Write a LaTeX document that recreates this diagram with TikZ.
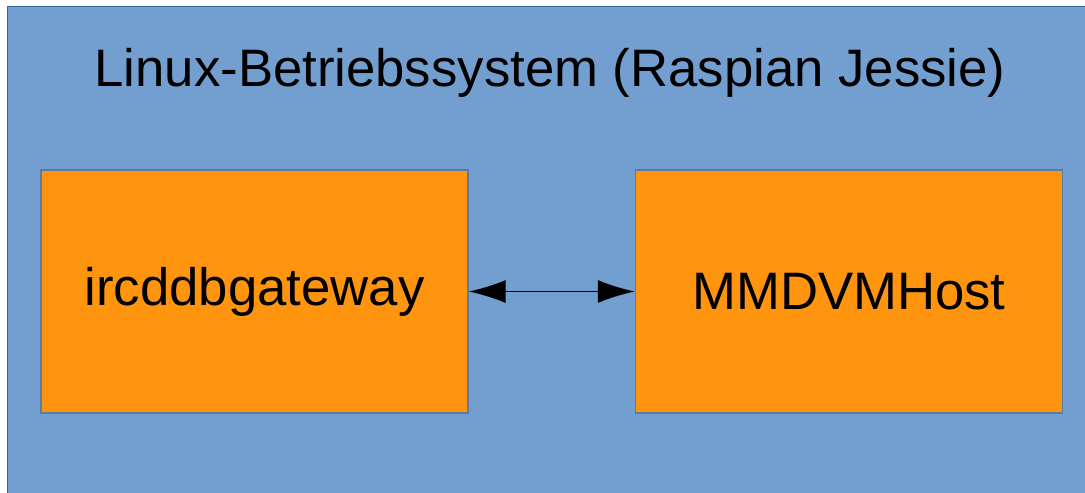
\documentclass[tikz,border=0pt]{standalone}
\usepackage{fontspec}
\setmainfont{Liberation Sans}
\usetikzlibrary{arrows.meta}

\definecolor{osblue}{HTML}{729FCF}
\definecolor{osline}{HTML}{3465A4}
\definecolor{apporange}{HTML}{FF950E}
\definecolor{appline}{HTML}{5B7BA3}

\begin{document}
\begin{tikzpicture}[
    x=0.02cm, y=-0.02cm,
    app/.style={rectangle, draw=appline, fill=apporange, line width=0.8pt,
        minimum width=8.54cm, minimum height=4.86cm, inner sep=0pt,
        font=\fontsize{30}{36}\selectfont},
    title/.style={font=\fontsize{30}{36}\selectfont},
    link/.style={{Latex[length=0.74cm, width=0.46cm]}-{Latex[length=0.74cm, width=0.46cm]}, line width=0.85pt},
]
\useasboundingbox (0,0) rectangle (1085,493);

% Operating system (background)
\draw[fill=osblue, draw=osline, line width=0.8pt] (7.5,6.5) rectangle (1100,510);
\node[title] (os) at (550,73) {Linux-Betriebssystem (Raspian Jessie)};

% Applications
\node[app] (gw) at (254.5,291.5) {ircddbgateway};
\node[app] (host) at (849,291.5) {MMDVMHost};

% Connection
\draw[link] (gw) -- (host);

\end{tikzpicture}
\end{document}
